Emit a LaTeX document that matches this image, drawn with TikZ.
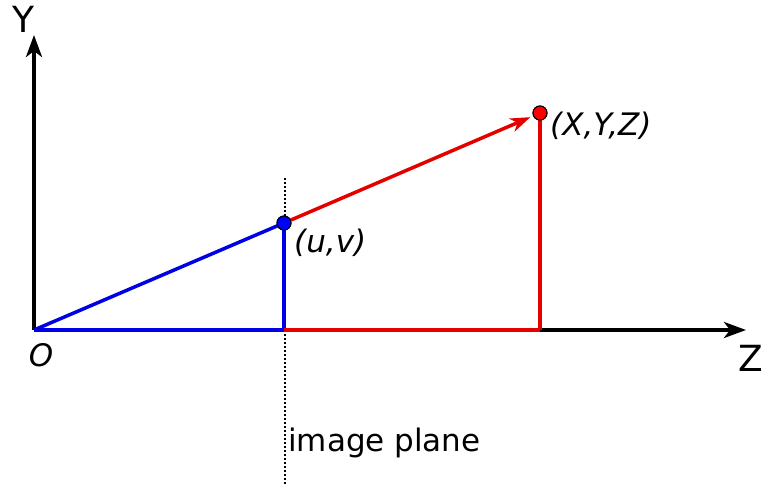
\documentclass[tikz,border=0pt]{standalone}
\usepackage{fontspec}
\setmainfont{DejaVu Sans}
\usetikzlibrary{arrows.meta}

\begin{document}
\begin{tikzpicture}[
    x=1pt, y=-1pt,
    font=\fontsize{31}{37}\selectfont,
    %% Osi
    axis/.style={draw=black, line width=3.5pt, -{Stealth[length=22pt, width=16pt, inset=6pt]}},
    axlbl/.style={font=\fontsize{36}{42}\selectfont, inner sep=0pt},
    %% Body
    pt/.style={circle, draw=black, line width=1pt, minimum size=14pt, inner sep=0pt},
    %% Lúče
    blueray/.style={draw=blue!90!black, line width=3.5pt},
    redray/.style={draw=red!90!black, line width=3.5pt},
    %% Obrazová rovina
    planeln/.style={draw=black, line width=2pt, dash pattern=on 2pt off 2pt},
    ptlbl/.style={font=\fontsize{31}{37}\selectfont\itshape, inner sep=0pt}
]
\useasboundingbox (0,0) rectangle (764,484);

%% Súradnice
\coordinate (o) at (34, 330);
\coordinate (ytip) at (34, 35);
\coordinate (ztip) at (746, 330);
\coordinate (uvfoot) at (284, 330);
\coordinate (xyzfoot) at (540, 330);
\coordinate (plnt) at (285, 178);
\coordinate (plnb) at (285, 484);

%% Obrazová rovina
\draw[planeln] (plnt) -- (plnb);

%% Osi
\draw[axis] (o) -- (ytip);
\draw[axis] (o) -- (ztip);

%% Body
\node[pt, fill=blue] (uv) at (284, 223) {};
\node[pt, fill=red] (xyz) at (540, 113) {};

%% Lúče
\draw[blueray] (o) -- (uv.center);
\draw[blueray] (o) -- (uvfoot);
\draw[blueray] (uv.center) -- (uvfoot);
\draw[redray] (uvfoot) -- (xyzfoot);
\draw[redray] (xyz.center) -- (xyzfoot);
\draw[redray, -{Stealth[length=20pt, width=14pt, inset=6pt]}, shorten >=3pt]
    (uv) -- (xyz);

%% Body (znova navrch)
\node[pt, fill=blue] at (uv) {};
\node[pt, fill=red] at (xyz) {};

%% Popisy
\node[axlbl] (ylbl) at (23, 19) {Y};
\node[axlbl] (zlbl) at (751, 358) {Z};
\node[ptlbl] (olbl) at (41, 355) {O};
\node[ptlbl, anchor=west] (uvlbl) at (294, 243) {(u,v)};
\node[ptlbl, anchor=west] (xyzlbl) at (550, 126) {(X,Y,Z)};
\node[inner sep=0pt, anchor=west] (plnlbl) at (288, 443) {image plane};

\end{tikzpicture}
\end{document}
